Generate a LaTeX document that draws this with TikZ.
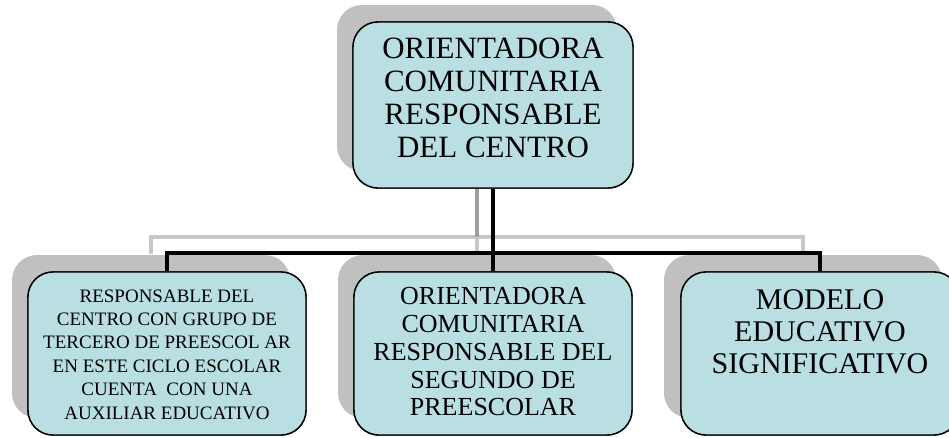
\documentclass[tikz,border=0pt]{standalone}
\usepackage{fontspec}
\setmainfont{Liberation Serif}
\usetikzlibrary{positioning}
\definecolor{cardblue}{RGB}{185,223,227}
\definecolor{backgray}{RGB}{192,192,192}
\definecolor{ghostline}{RGB}{200,200,200}
\definecolor{ghostdark}{RGB}{160,160,160}

\begin{document}
\begin{tikzpicture}[x=1pt, y=-1pt,
    card/.style={rectangle, rounded corners=25pt, draw=black, line width=1.4pt, fill=cardblue, minimum width=280pt, minimum height=166pt, inner sep=0pt},
    backcard/.style={card, draw=none, fill=backgray},
    low/.style={minimum width=278pt, minimum height=163pt},
    caption/.style={inner sep=0pt, align=center},
    link/.style={line width=4pt, black},
    ghost link/.style={line width=4pt, ghostline}
]
    \useasboundingbox (0,0) rectangle (949,437);

    % Shadow copies
    \node[backcard] (top-back) at (477,88) {};
    \node[backcard, low] (left-back) at (151,336.5) {};
    \node[backcard, low] (mid-back) at (477,336.5) {};
    \node[backcard, low] (right-back) at (803,336.5) {};
    \coordinate (back-bus) at (477,237);

    % Shadow connectors
    \draw[ghost link] (back-bus) -| (left-back.north);
    \draw[ghost link] (back-bus) -| (right-back.north);
    \draw[ghost link] (back-bus) -- (mid-back.north);
    \draw[line width=4pt, ghostdark] (top-back.south) -- (back-bus);

    % Boxes
    \node[card] (top) at (493,105) {};
    \node[card, low] (left) at (167,353.5) {};
    \node[card, low] (mid) at (493,353.5) {};
    \node[card, low] (right) at (820,353.5) {};
    \coordinate (bus) at (493,253);

    % Connectors
    \draw[link] (top.south) -- (bus);
    \draw[link] (bus) -| (left.north);
    \draw[link] (bus) -| (right.north);
    \draw[link] (bus) -- (mid.north);
    \node[card] at (top) {};
    \node[card, low] at (left) {};
    \node[card, low] at (mid) {};
    \node[card, low] at (right) {};

    % Texts
    \node[caption, font=\fontsize{31}{33}\selectfont, below=16pt of top.north] (top-text)
        {ORIENTADORA\\COMUNITARIA\\RESPONSABLE\\DEL CENTRO};
    \node[caption, font=\fontsize{19}{23.4}\selectfont, below=18pt of left.north] (left-text)
        {RESPONSABLE DEL\\CENTRO CON GRUPO DE\\TERCERO DE PREESCOL AR\\EN ESTE CICLO ESCOLAR\\CUENTA~ CON UNA\\AUXILIAR EDUCATIVO};
    \node[caption, font=\fontsize{26}{27.8}\selectfont, below=16pt of mid.north] (mid-text)
        {ORIENTADORA\\COMUNITARIA\\RESPONSABLE DEL\\SEGUNDO DE\\PREESCOLAR};
    \node[caption, font=\fontsize{30}{32}\selectfont, below=18pt of right.north] (right-text)
        {MODELO\\EDUCATIVO\\SIGNIFICATIVO};
\end{tikzpicture}
\end{document}
